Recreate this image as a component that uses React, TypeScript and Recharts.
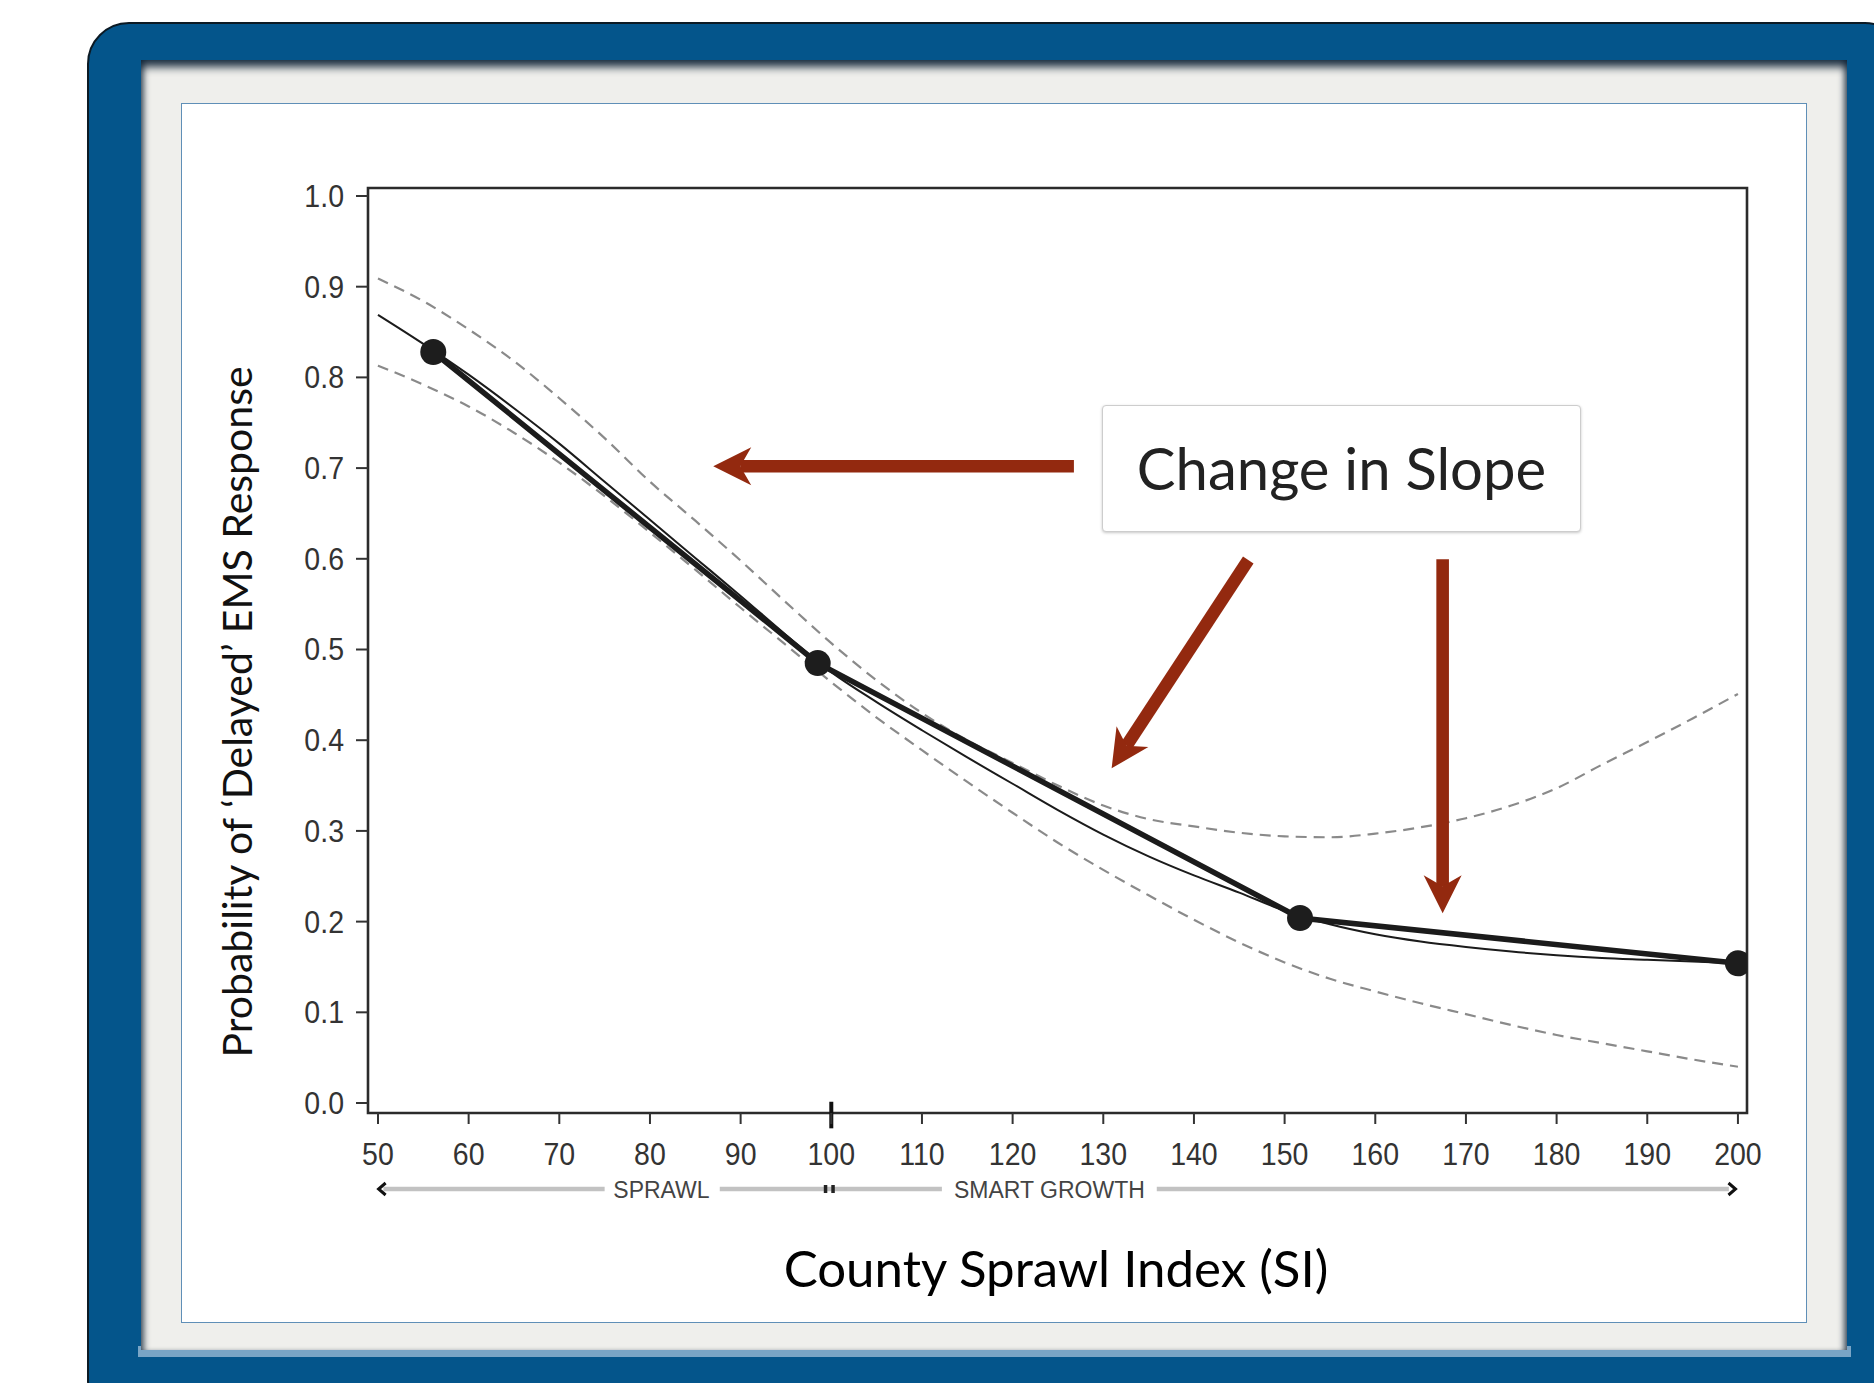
import { LineChart, Line, XAxis, YAxis, ReferenceLine, ReferenceArea, ReferenceDot } from 'recharts';

// axis ticks
const xTicks = [50, 60, 70, 80, 90, 100, 110, 120, 130, 140, 150, 160, 170, 180, 190, 200];
const yTicks = [0, 0.1, 0.2, 0.3, 0.4, 0.5, 0.6, 0.7, 0.8, 0.9, 1.0];

// smooth fit + confidence band
const curveX = [50, 55, 60, 65, 70, 75, 80, 85, 90, 95, 100, 105, 110, 115, 120, 125, 130, 135, 140, 145, 150, 155, 160, 165, 170, 175, 180, 185, 190, 195, 200];
const fittedY = [0.869, 0.837, 0.803, 0.766, 0.727, 0.685, 0.643, 0.601, 0.559, 0.516, 0.475, 0.442, 0.411, 0.381, 0.352, 0.323, 0.296, 0.272, 0.251, 0.232, 0.212, 0.197, 0.186, 0.178, 0.172, 0.167, 0.163, 0.160, 0.158, 0.156, 0.154];
const upperY = [0.909, 0.884, 0.853, 0.818, 0.777, 0.733, 0.685, 0.642, 0.598, 0.552, 0.507, 0.466, 0.430, 0.400, 0.375, 0.350, 0.328, 0.313, 0.305, 0.298, 0.294, 0.293, 0.297, 0.304, 0.314, 0.328, 0.347, 0.373, 0.398, 0.424, 0.451];
const lowerY = [0.813, 0.792, 0.768, 0.739, 0.706, 0.669, 0.629, 0.588, 0.546, 0.505, 0.464, 0.425, 0.389, 0.354, 0.320, 0.287, 0.257, 0.229, 0.202, 0.177, 0.155, 0.137, 0.123, 0.110, 0.098, 0.086, 0.075, 0.066, 0.057, 0.048, 0.040];

// piecewise (knots) line with dots
const knotX = [56.1, 98.5, 151.7, 200];
const knotY = [0.828, 0.485, 0.204, 0.154];

// red arrows, tail -> tip, data units
const arrowFromX = [126.76, 145.99, 167.43];
const arrowFromY = [0.702, 0.5987, 0.5994];
const arrowToX = [86.98, 130.92, 167.43];
const arrowToY = [0.702, 0.369, 0.2091];

// SPRAWL / SMART GROWTH band below the x axis
const bandY = -0.0948;
const bandFrom = [50.6, 87.7, 135.9];
const bandTo = [75.0, 112.2, 199.0];
const bandText = ['SPRAWL', 'SMART GROWTH'];
const bandTextX = [81.27, 124.06];

const X_DOMAIN: [number, number] = [48.9, 201.0];
const Y_DOMAIN: [number, number] = [-0.011, 1.0088];

const HELV = "'Liberation Sans', Arial, sans-serif";
const GILL = "Lato, 'Open Sans', sans-serif";
const RED = '#93290f';

const toPts = (xs: number[], ys: number[]) => xs.map((x, i) => ({ x, y: ys[i] }));
const fitData = toPts(curveX, fittedY);
const upperData = toPts(curveX, upperY);
const lowerData = toPts(curveX, lowerY);
const knotData = toPts(knotX, knotY);

const XTick = (props: any) => {
    const { x, y, payload } = props;
    return (
        <text x={x} y={y} dy="0.71em" textAnchor="middle" fontSize={31} fill="#333" fontFamily={HELV}
            transform={`translate(${x},0) scale(0.92,1) translate(${-x},0)`}>
            {payload.value}
        </text>
    );
};

const YTick = (props: any) => {
    const { x, y, payload } = props;
    return (
        <text x={x} y={y} dy="0.355em" textAnchor="end" fontSize={31} fill="#333" fontFamily={HELV}
            transform={`translate(${x},0) scale(0.92,1) translate(${-x},0)`}>
            {Number(payload.value).toFixed(1)}
        </text>
    );
};

// block arrow with swept-back head
const Arrow = (p: any) => {
    const { x1, y1, x2, y2 } = p;
    const dx = x2 - x1, dy = y2 - y1;
    const len = Math.hypot(dx, dy) || 1;
    const ux = dx / len, uy = dy / len;
    const nx = -uy, ny = ux;
    const head = 38, half = 19, notch = 11, sw = 6.3;
    const bx = x2 - ux * head, by = y2 - uy * head;
    const jx = x2 - ux * (head - notch), jy = y2 - uy * (head - notch);
    const shaft = [
        [x1 + nx * sw, y1 + ny * sw], [jx + nx * sw, jy + ny * sw],
        [jx - nx * sw, jy - ny * sw], [x1 - nx * sw, y1 - ny * sw],
    ];
    const tip = [[x2, y2], [bx + nx * half, by + ny * half], [jx, jy], [bx - nx * half, by - ny * half]];
    const s = (a: number[][]) => a.map(q => q.join(',')).join(' ');
    return (
        <g>
            <polygon points={s(shaft)} fill={RED} />
            <polygon points={s(tip)} fill={RED} />
        </g>
    );
};

const Chevron = (dir: number) => (p: any) => (
    <polyline points={`${p.cx + dir * 4},${p.cy - 6} ${p.cx - dir * 3},${p.cy} ${p.cx + dir * 4},${p.cy + 6}`}
        fill="none" stroke="#111" strokeWidth={3} />
);

const BandLabel = (text: string) => (p: any) => (
    <text x={p.cx} y={p.cy + 8.5} textAnchor="middle" fontSize={23} fill="#444" fontFamily={HELV}>{text}</text>
);

const MidMarks = (p: any) => (
    <g fill="#222">
        <rect x={p.cx - 5.5} y={p.cy - 4} width={3.5} height={8} />
        <rect x={p.cx + 2} y={p.cy - 4} width={3.5} height={8} />
    </g>
);

export default function App() {
    return (
        <div style={{ position: 'absolute', left: 0, top: 0, width: 1874, height: 1383, overflow: 'hidden', background: '#fff' }}>
            {/* blue slide frame */}
            <div style={{
                position: 'absolute', left: 87, top: 22, width: 1820, height: 1400,
                background: '#04558b', borderRadius: 42, border: '2px solid #0c1a24', boxSizing: 'border-box',
            }} />
            <div style={{ position: 'absolute', left: 138, top: 1346, width: 1713, height: 11, background: '#7aa5c6' }} />
            <div style={{
                position: 'absolute', left: 141, top: 60, width: 1706, height: 1290, background: '#efefec',
                boxShadow: 'inset 0 12px 8px -5px rgba(12,32,52,0.9), inset 7px 0 6px -4px rgba(12,32,52,0.75), inset -7px 0 6px -4px rgba(12,32,52,0.75)',
            }} />
            <div style={{
                position: 'absolute', left: 181, top: 103, width: 1626, height: 1220, background: '#fff',
                border: '1.5px solid #5f8fb7', boxSizing: 'border-box',
            }} />

            <div style={{ position: 'absolute', left: 0, top: 0 }}>
                <LineChart width={1874} height={1383} margin={{ top: 188, right: 127, bottom: 210, left: 0 }}>
                    <XAxis type="number" dataKey="x" domain={X_DOMAIN} ticks={xTicks} interval={0} height={60}
                        allowDataOverflow axisLine={false} tickLine={{ stroke: '#333', strokeWidth: 2 }}
                        tickSize={11} tickMargin={19} tick={<XTick />} />
                    <YAxis type="number" dataKey="y" domain={Y_DOMAIN} ticks={yTicks} interval={0} width={368}
                        allowDataOverflow axisLine={false} tickLine={{ stroke: '#333', strokeWidth: 2 }}
                        tickSize={12} tickMargin={12} tick={<YTick />} />

                    <ReferenceArea x1={X_DOMAIN[0]} x2={X_DOMAIN[1]} y1={Y_DOMAIN[0]} y2={Y_DOMAIN[1]}
                        fill="none" stroke="#2b2b2b" strokeWidth={2.6} ifOverflow="visible" />

                    <Line data={upperData} dataKey="y" type="monotone" stroke="#8a8a8a" strokeWidth={2.2}
                        strokeDasharray="11 7" dot={false} isAnimationActive={false} />
                    <Line data={lowerData} dataKey="y" type="monotone" stroke="#8a8a8a" strokeWidth={2.2}
                        strokeDasharray="11 7" dot={false} isAnimationActive={false} />
                    <Line data={fitData} dataKey="y" type="monotone" stroke="#1b1b1b" strokeWidth={2}
                        dot={false} isAnimationActive={false} />
                    <Line data={knotData} dataKey="y" type="linear" stroke="#1b1b1b" strokeWidth={5.5}
                        dot={{ r: 13, fill: '#1d1d1d', stroke: '#1d1d1d', strokeWidth: 0 }} isAnimationActive={false} />

                    {/* heavy tick at SI = 100 */}
                    <ReferenceLine segment={[{ x: 100, y: 0.0014 }, { x: 100, y: -0.0279 }]}
                        stroke="#111" strokeWidth={4} ifOverflow="visible" />

                    {/* SPRAWL / SMART GROWTH band */}
                    {bandFrom.map((x0, i) => (
                        <ReferenceLine key={'b' + i} segment={[{ x: x0, y: bandY }, { x: bandTo[i], y: bandY }]}
                            stroke="#c2c2c2" strokeWidth={4.5} ifOverflow="visible" />
                    ))}
                    {bandText.map((t, i) => (
                        <ReferenceDot key={'t' + i} x={bandTextX[i]} y={bandY} r={0} ifOverflow="visible" shape={BandLabel(t)} />
                    ))}
                    <ReferenceDot x={bandFrom[0] - 0.2} y={bandY} r={1} ifOverflow="visible" shape={Chevron(1)} />
                    <ReferenceDot x={bandTo[2] + 0.4} y={bandY} r={1} ifOverflow="visible" shape={Chevron(-1)} />
                    <ReferenceDot x={99.78} y={bandY} r={1} ifOverflow="visible" shape={MidMarks} />

                    {/* annotation arrows */}
                    {arrowFromX.map((x0, i) => (
                        <ReferenceLine key={'a' + i}
                            segment={[{ x: x0, y: arrowFromY[i] }, { x: arrowToX[i], y: arrowToY[i] }]}
                            ifOverflow="visible" shape={Arrow} />
                    ))}
                </LineChart>
            </div>

            {/* axis titles */}
            <svg width={1874} height={1383} style={{ position: 'absolute', left: 0, top: 0, pointerEvents: 'none' }}>
                <text x={252} y={712} transform="rotate(-90 252 712)" textAnchor="middle" fontFamily={GILL} fontSize={41} fill="#111">
                    Probability of ‘Delayed’ EMS Response
                </text>
                <text x={1056} y={1287} textAnchor="middle" fontFamily={GILL} fontSize={51} fill="#000">
                    County Sprawl Index (SI)
                </text>
            </svg>

            {/* callout */}
            <div style={{
                position: 'absolute', left: 1102, top: 405, width: 479, height: 127, boxSizing: 'border-box',
                background: '#fff', border: '1.5px solid #cdcdcd', borderRadius: 4,
                boxShadow: '0 1px 3px rgba(0,0,0,0.22)', display: 'flex', alignItems: 'center', justifyContent: 'center',
                fontFamily: GILL, fontSize: 58, color: '#222', paddingBottom: 2,
            }}>
                Change in Slope
            </div>
        </div>
    );
}
